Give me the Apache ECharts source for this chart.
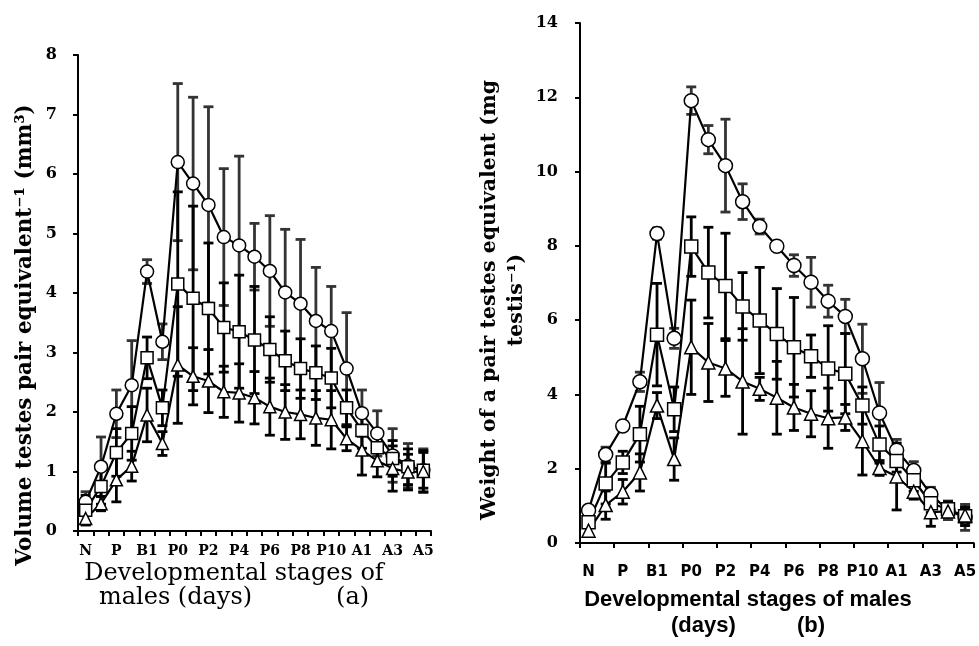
<!DOCTYPE html>
<html><head><meta charset="utf-8">
<script src="https://cdn.jsdelivr.net/npm/echarts@6/dist/echarts.min.js"></script>
<style>html,body{margin:0;padding:0;background:#fff}#c{width:979px;height:646px}</style>
</head><body><div id="c"></div>
<script>
const categories = ["N","NP","P","PB","B1","B2","P0","P1","P2","P3","P4","P5","P6","P7","P8","P9","P10","P11","A1","A2","A3","A4","A5"];

// Panel (a): volume of testes pair equivalent (mm3)
const volCircle    = [0.49,1.08,1.97,2.45,4.36,3.18,6.20,5.84,5.48,4.94,4.80,4.61,4.37,4.01,3.82,3.53,3.36,2.73,1.98,1.64,1.27,1.10,1.02];
const volCircleErr = [0.17,0.50,0.40,0.75,0.20,0.30,1.32,1.45,1.65,1.15,1.50,0.56,0.93,1.06,1.08,0.90,0.75,0.94,0.39,0.38,0.45,0.37,0.36];
const volSquare    = [0.35,0.75,1.32,1.64,2.91,2.07,4.15,3.91,3.74,3.42,3.35,3.21,3.05,2.86,2.73,2.66,2.57,2.07,1.69,1.40,1.22,1.08,1.02];
const volSquareErr = [0.25,0.30,0.40,0.45,0.35,0.30,1.55,1.55,1.10,0.75,0.95,0.90,0.55,0.50,0.50,0.45,0.50,0.30,0.30,0.30,0.30,0.30,0.30];
const volTri       = [0.21,0.46,0.86,1.09,1.95,1.47,2.79,2.60,2.52,2.34,2.32,2.24,2.09,2.00,1.96,1.90,1.87,1.55,1.36,1.18,1.05,0.99,1.00];
const volTriErr    = [0.10,0.12,0.37,0.25,0.45,0.20,0.98,0.48,0.53,0.43,0.49,0.44,0.48,0.46,0.41,0.46,0.49,0.20,0.42,0.27,0.38,0.30,0.35];

// Panel (b): weight of a pair testes equivalent (mg testis-1)
const wtCircle    = [0.88,2.38,3.15,4.34,8.33,5.51,11.91,10.86,10.16,9.19,8.52,7.99,7.47,7.02,6.51,6.10,4.96,3.50,2.50,1.95,1.31,0.88,0.69];
const wtCircleErr = [0.10,0.20,0.10,0.26,0.15,0.27,0.37,0.38,1.25,0.48,0.20,0.10,0.29,0.67,0.43,0.46,0.93,0.82,0.29,0.24,0.19,0.25,0.35];
const wtSquare    = [0.56,1.60,2.17,2.93,5.61,3.60,7.98,7.28,6.92,6.37,5.99,5.63,5.27,5.03,4.70,4.56,3.70,2.65,2.21,1.69,1.07,0.91,0.72];
const wtSquareErr = [0.10,0.55,0.30,0.75,1.38,0.60,0.80,1.22,1.42,0.91,1.43,1.22,1.34,0.57,1.15,1.08,0.50,0.50,0.30,0.30,0.25,0.20,0.25];
const wtTri       = [0.33,1.02,1.38,1.90,3.70,2.26,5.27,4.86,4.70,4.35,4.15,3.91,3.65,3.48,3.36,3.38,2.74,2.02,1.79,1.38,0.83,0.85,0.74];
const wtTriErr    = [0.10,0.38,0.33,0.50,0.35,0.57,1.27,1.05,0.75,1.42,0.31,0.98,0.62,0.62,0.81,0.35,0.91,0.20,0.90,0.20,0.38,0.15,0.20];

const volTicks = [0,1,2,3,4,5,6,7,8];
const wtTicks = [0,2,4,6,8,10,12,14];

const titleAX = 'Developmental stages of\nmales (days)           (a)';
const titleAY = 'Volume testes pair equivalent⁻¹ (mm³)';
const titleBX = 'Developmental stages of males\n(days)          (b)';
const titleBY = 'Weight of a pair testes equivalent (mg\ntestis⁻¹)';

const SERIF = '"DejaVu Serif", serif';
const SANS = '"DejaVu Sans", sans-serif';
const ARIAL = '"Liberation Sans", Arial, sans-serif';

function errData(vals, errs){ return vals.map((v,i)=>[i, v-errs[i], v+errs[i]]); }
function errSeries(vals, errs, idx, color){
  return {
    type:'custom', xAxisIndex:idx, yAxisIndex:idx, z:1, silent:true,
    encode:{x:0, y:[1,2]},
    data: errData(vals, errs),
    renderItem: function(params, api){
      const lo = api.coord([api.value(0), api.value(1)]);
      const hi = api.coord([api.value(0), api.value(2)]);
      const w = 5;
      const st = {stroke: color, lineWidth: 2.8};
      return {type:'group', children:[
        {type:'line', shape:{x1:lo[0],y1:lo[1],x2:hi[0],y2:hi[1]}, style:st},
        {type:'line', shape:{x1:lo[0]-w,y1:lo[1],x2:lo[0]+w,y2:lo[1]}, style:st},
        {type:'line', shape:{x1:hi[0]-w,y1:hi[1],x2:hi[0]+w,y2:hi[1]}, style:st}
      ]};
    }
  };
}
function lineSeries(name, vals, idx, symbol, size){
  return {
    name, type:'line', xAxisIndex:idx, yAxisIndex:idx, z:3,
    data: vals, symbol, symbolSize:size, showAllSymbol:true,
    lineStyle:{color:'#000', width:2.2},
    itemStyle:{color:'#fff', borderColor:'#000', borderWidth:1.5},
    animation:false
  };
}
function txt(text, x, y, font, rot, lh){
  return {type:'text', x, y, rotation: rot || 0, silent:true, z:10,
    style:{text, font, fill:'#000', textAlign:'center', textVerticalAlign:'middle',
           align:'center', verticalAlign:'middle', lineHeight: lh || 24}};
}

const chart = echarts.init(document.getElementById('c'), null, {renderer:'canvas'});
chart.setOption({
  animation:false,
  backgroundColor:'#fff',
  grid:[
    {left:78, top:55, width:353, height:476},
    {left:580, top:23, width:399, height:520}
  ],
  xAxis:[
    {type:'category', gridIndex:0, data:categories, boundaryGap:true,
     axisLine:{lineStyle:{color:'#000', width:2}},
     axisTick:{show:true, interval:0, length:5, lineStyle:{color:'#000', width:2}},
     axisLabel:{interval:1, color:'#000', fontFamily:SERIF, fontWeight:'bold', fontSize:14, margin:13}
    },
    {type:'category', gridIndex:1, data:categories, boundaryGap:true,
     axisLine:{lineStyle:{color:'#000', width:2}},
     axisTick:{show:true, interval:1, length:5, lineStyle:{color:'#000', width:2}},
     axisLabel:{interval:1, color:'#000', fontFamily:SANS, fontWeight:'bold', fontSize:15, margin:22}
    }
  ],
  yAxis:[
    {type:'value', gridIndex:0, min:volTicks[0], max:volTicks[volTicks.length-1], interval:1,
     splitLine:{show:false},
     axisLine:{show:true, lineStyle:{color:'#000', width:2}},
     axisTick:{show:true, length:5, lineStyle:{color:'#000', width:2}},
     axisLabel:{color:'#000', fontFamily:SERIF, fontWeight:'bold', fontSize:16, margin:21}
    },
    {type:'value', gridIndex:1, min:wtTicks[0], max:wtTicks[wtTicks.length-1], interval:2,
     splitLine:{show:false},
     axisLine:{show:true, lineStyle:{color:'#000', width:2}},
     axisTick:{show:true, length:5, lineStyle:{color:'#000', width:2}},
     axisLabel:{color:'#000', fontFamily:SERIF, fontWeight:'bold', fontSize:16, margin:22}
    }
  ],
  graphic:[
    txt(titleAX, 234, 586, '24px ' + SERIF, 0, 24),
    txt(titleAY, 25, 335, 'bold 21.5px ' + SERIF, Math.PI/2, 24),
    txt(titleBX, 748, 613, 'bold 22px ' + ARIAL, 0, 26),
    txt(titleBY, 503, 300, 'bold 20.5px ' + SERIF, Math.PI/2, 27)
  ],
  series:[
    errSeries(volCircle, volCircleErr, 0, '#333'),
    errSeries(volSquare, volSquareErr, 0, '#000'),
    errSeries(volTri, volTriErr, 0, '#000'),
    lineSeries('circle-a', volCircle, 0, 'circle', 13),
    lineSeries('square-a', volSquare, 0, 'rect', 12),
    lineSeries('triangle-a', volTri, 0, 'triangle', 12),
    errSeries(wtCircle, wtCircleErr, 1, '#333'),
    errSeries(wtSquare, wtSquareErr, 1, '#000'),
    errSeries(wtTri, wtTriErr, 1, '#000'),
    lineSeries('circle-b', wtCircle, 1, 'circle', 14),
    lineSeries('square-b', wtSquare, 1, 'rect', 13),
    lineSeries('triangle-b', wtTri, 1, 'triangle', 13)
  ]
});
</script></body></html>
